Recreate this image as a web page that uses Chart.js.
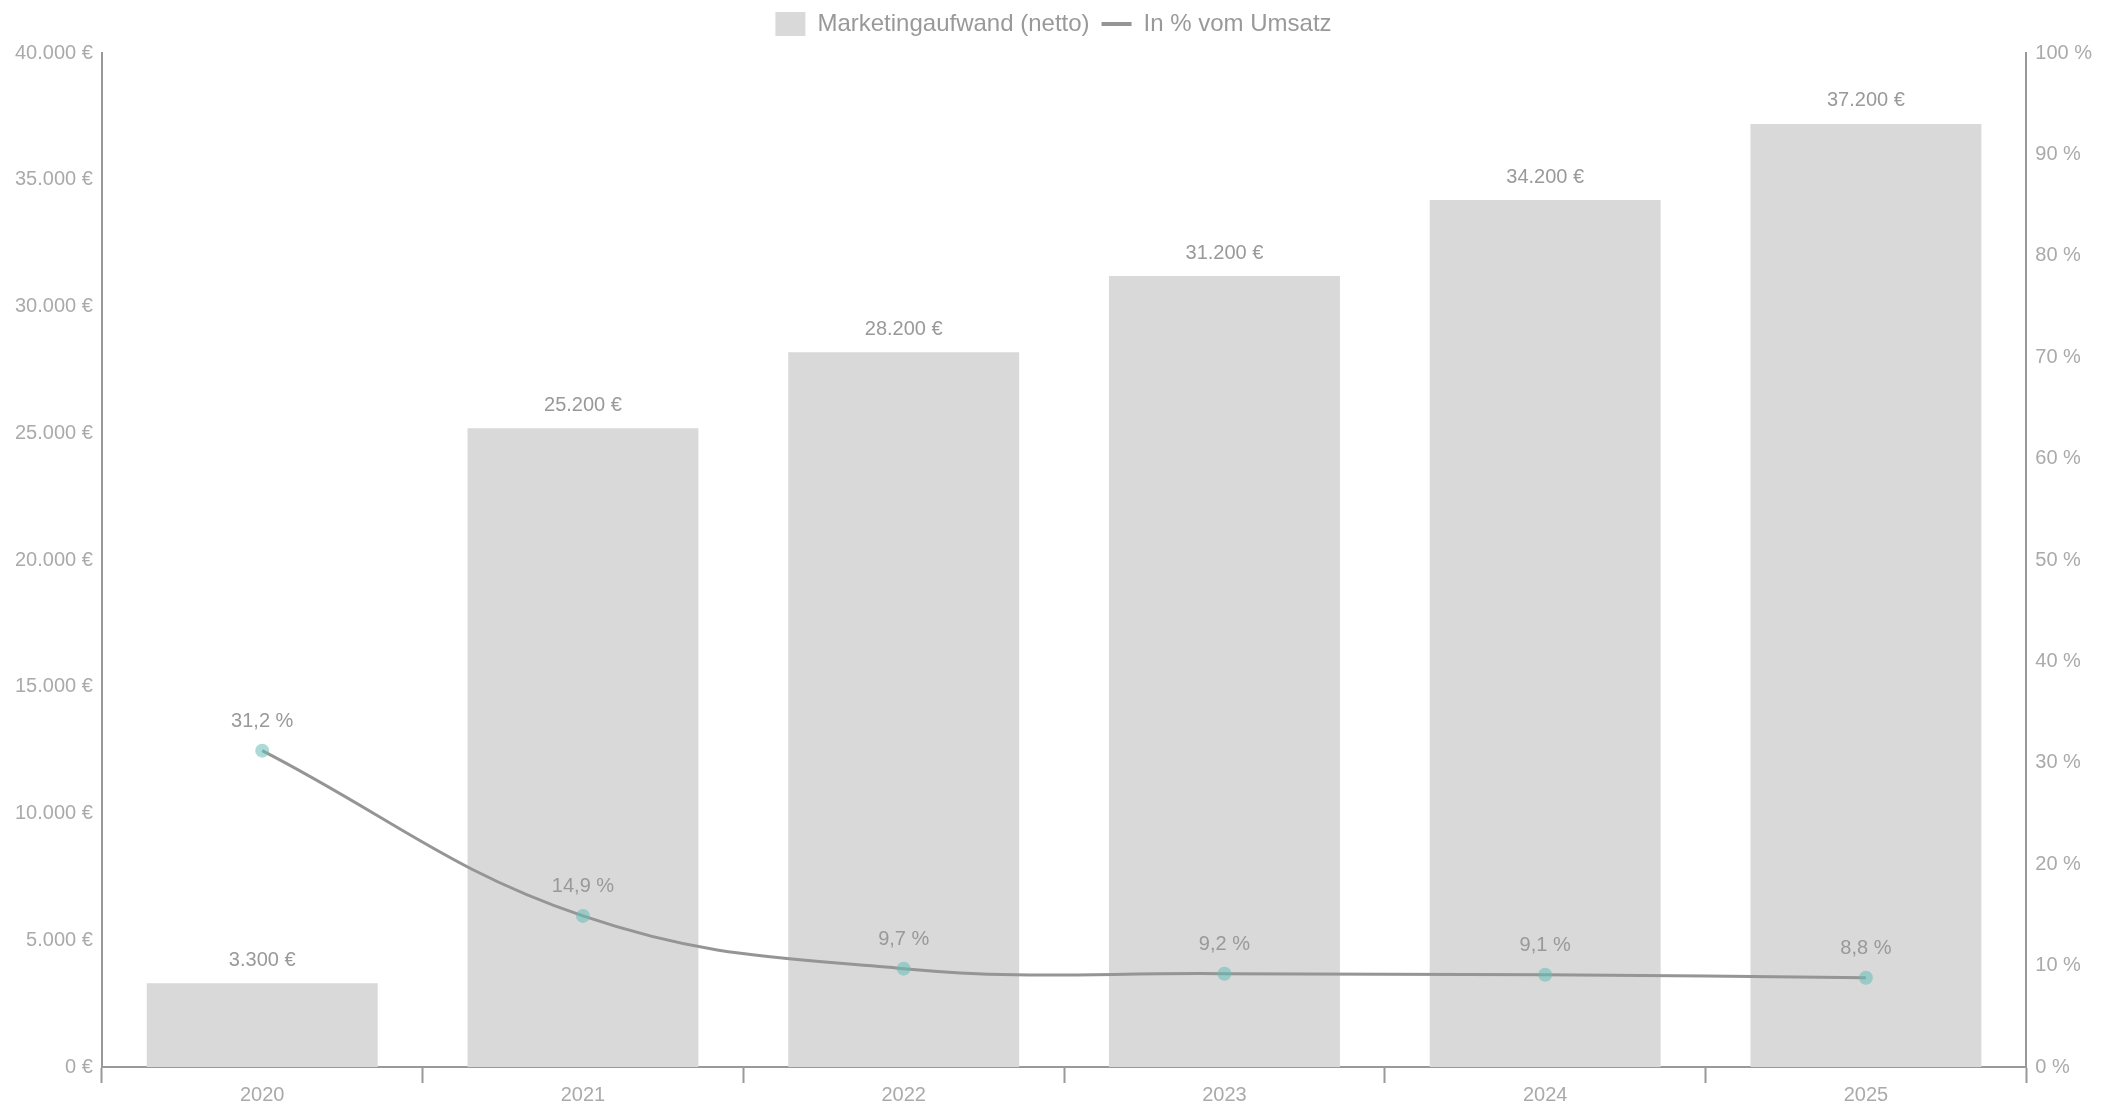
<!DOCTYPE html>
<html>
<head>
<meta charset="utf-8">
<script src="https://cdn.jsdelivr.net/npm/chart.js@4"></script>
<style>
  html, body { margin: 0; padding: 0; background: #fff; }
  canvas { display: block; }
</style>
</head>
<body>
<canvas id="chart" width="2116" height="1107"></canvas>
<script>
const years = ['2020', '2021', '2022', '2023', '2024', '2025'];
const marketingSpend = [3300, 25200, 28200, 31200, 34200, 37200];
const shareOfSales = [31.2, 14.9, 9.7, 9.2, 9.1, 8.8];
const spendTicks = [0, 5000, 10000, 15000, 20000, 25000, 30000, 35000, 40000];
const percentTicks = [0, 10, 20, 30, 40, 50, 60, 70, 80, 90, 100];

const fmtEuro = v => v.toLocaleString('de-DE') + ' €';
const fmtPct = v => v.toLocaleString('de-DE', { minimumFractionDigits: 1, maximumFractionDigits: 1 }) + ' %';

// draw values above bars and points
const valueLabels = {
  id: 'valueLabels',
  afterDatasetsDraw(chart) {
    const ctx = chart.ctx;
    ctx.save();
    ctx.font = '20px "Liberation Sans", Arial, sans-serif';
    ctx.fillStyle = '#999';
    ctx.textAlign = 'center';
    ctx.textBaseline = 'middle';
    chart.data.datasets.forEach((ds, i) => {
      const meta = chart.getDatasetMeta(i);
      meta.data.forEach((el, j) => {
        const v = ds.data[j];
        if (ds.type === 'line') {
          ctx.fillText(fmtPct(v), el.x, el.y - 29);
        } else {
          ctx.fillText(fmtEuro(v), el.x, el.y - 23);
        }
      });
    });
    ctx.restore();
  }
};

// a bit more room under the legend
const legendGap = {
  id: 'legendGap',
  beforeInit(chart) {
    const fit = chart.legend.fit;
    chart.legend.fit = function() {
      fit.call(this);
      this.height += 7;
    };
  }
};

Chart.defaults.font.family = '"Liberation Sans", Arial, sans-serif';
Chart.defaults.color = '#aaa';

new Chart(document.getElementById('chart').getContext('2d'), {
  data: {
    labels: years,
    datasets: [
      {
        type: 'line',
        label: 'In % vom Umsatz',
        data: shareOfSales,
        yAxisID: 'yPct',
        borderColor: '#959595',
        backgroundColor: '#959595',
        borderWidth: 3,
        tension: 0.4,
        pointRadius: 7,
        pointBorderWidth: 0,
        pointBackgroundColor: 'rgba(100,190,180,0.55)',
        order: 0
      },
      {
        type: 'bar',
        label: 'Marketingaufwand (netto)',
        data: marketingSpend,
        yAxisID: 'yEur',
        backgroundColor: '#d9d9d9',
        borderWidth: 0,
        categoryPercentage: 0.8,
        barPercentage: 0.9,
        order: 1
      }
    ]
  },
  options: {
    responsive: false,
    animation: false,
    layout: { padding: { left: 6, right: 15, top: 0, bottom: 0 } },
    plugins: {
      legend: {
        position: 'top',
        reverse: true,
        labels: {
          color: '#999',
          font: { size: 24 },
          usePointStyle: true,
          boxHeight: 36,
          pointStyleWidth: 30,
          padding: 12,
          generateLabels(chart) {
            const items = Chart.defaults.plugins.legend.labels.generateLabels(chart);
            items.forEach(it => {
              const ds = chart.data.datasets[it.datasetIndex];
              if (ds.type === 'line') {
                it.pointStyle = 'line';
                it.lineWidth = 4;
                it.strokeStyle = '#959595';
              } else {
                it.pointStyle = 'rect';
                it.lineWidth = 0;
                it.fillStyle = '#d9d9d9';
              }
            });
            return items;
          }
        }
      },
      tooltip: { enabled: false }
    },
    scales: {
      x: {
        offset: true,
        grid: {
          display: true,
          drawOnChartArea: false,
          offset: true,
          tickLength: 16,
          tickWidth: 2,
          tickColor: '#999'
        },
        border: { color: '#999', width: 2 },
        ticks: { color: '#aaa', font: { size: 20 }, padding: 0 }
      },
      yEur: {
        position: 'left',
        min: 0,
        max: 40000,
        afterBuildTicks(axis) { axis.ticks = spendTicks.map(v => ({ value: v })); },
        grid: { display: false, drawTicks: false },
        border: { color: '#999', width: 2 },
        ticks: { color: '#aaa', font: { size: 20 }, padding: 9, callback: v => fmtEuro(v) }
      },
      yPct: {
        position: 'right',
        min: 0,
        max: 100,
        afterBuildTicks(axis) { axis.ticks = percentTicks.map(v => ({ value: v })); },
        grid: { display: false, drawTicks: false },
        border: { color: '#999', width: 2 },
        ticks: { color: '#aaa', font: { size: 20 }, padding: 9, callback: v => v + ' %' }
      }
    }
  },
  plugins: [valueLabels, legendGap]
});
</script>
</body>
</html>
